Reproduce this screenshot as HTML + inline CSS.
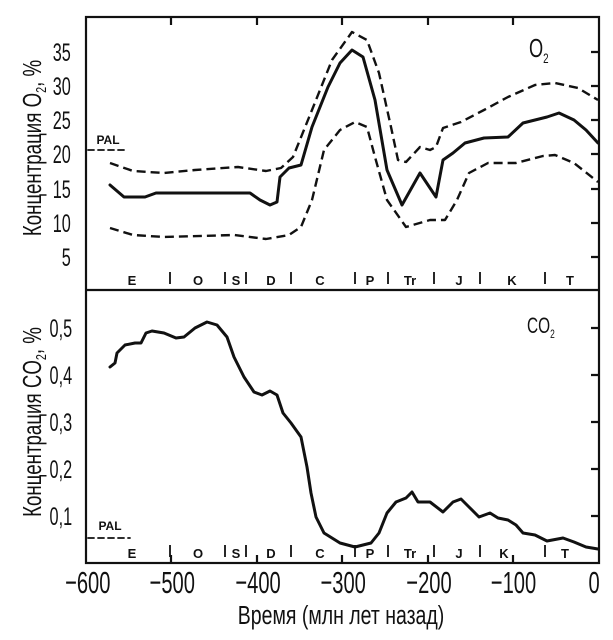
<!DOCTYPE html>
<html><head><meta charset="utf-8"><style>
html,body{margin:0;padding:0;background:#fff;}
svg text{font-family:"Liberation Sans",sans-serif;fill:#111;}
</style></head><body>
<svg width="613" height="635" viewBox="0 0 613 635" xmlns="http://www.w3.org/2000/svg">
<g stroke="#111" fill="none" stroke-width="2.2">
<rect x="86" y="17" width="513" height="546"/>
<line x1="86" y1="290" x2="599" y2="290"/>
<path d="M171 17v8M257 17v8M342 17v8M428 17v8M513 17v8"/>
<path d="M599 52h-8M599 86h-8M599 120h-8M599 154h-8M599 189h-8M599 223h-8M599 257h-8"/>
<path d="M599 328h-8M599 375h-8M599 422h-8M599 469h-8M599 516h-8"/>
<path d="M171 563v-8M257 563v-8M342 563v-8M428 563v-8M513 563v-8"/>
<path d="M170 272v12M225 272v12M246 272v12M291 272v12M355 272v12M388 272v12M434 272v12M480 272v12M545 272v12" stroke-width="1.8"/>
<path d="M170 545v12M225 545v12M246 545v12M291 545v12M355 545v12M388 545v12M434 545v12M480 545v12M545 545v12" stroke-width="1.8"/>
</g>
<g fill="none" stroke="#111" stroke-linejoin="round" stroke-linecap="round">
<polyline stroke-width="3" points="110,185 124,197 145,197 156,193 250,193 260,200 270,205 277,202 280,177 289,168 301,165 312,127 328,87 340,63 352,50 363,57 375,100 387,170 402,205 420,173 436,197 443,160 453,153 465,143 484,138 508,137 523,123 547,117 559,113 574,120 586,130 598,143"/>
<polyline stroke-width="2.4" stroke-dasharray="9,5" stroke-linecap="butt" points="110,163 133,171 164,173 195,170 238,167 266,171 281,168 293,157 312,110 332,60 352,32 367,40 379,73 391,127 398,160 406,162 420,147 430,150 436,147 443,128 461,122 484,110 508,97 535,85 555,83 578,88 598,100"/>
<polyline stroke-width="2.4" stroke-dasharray="9,5" stroke-linecap="butt" points="110,228 133,235 164,237 234,235 266,239 289,235 301,227 312,200 324,150 340,130 355,122 367,127 375,157 387,200 406,227 430,220 445,220 457,200 469,173 488,163 516,163 543,156 555,155 574,163 598,182"/>
<line x1="88" y1="150" x2="127" y2="150" stroke-width="1.8" stroke-dasharray="6,4"/>
<polyline stroke-width="3" points="110,367 115,363 117,353 125,345 135,343 141,343 146,333 152,331 164,333 176,338 184,337 195,328 207,322 217,325 227,337 234,357 244,377 254,392 262,395 270,391 277,395 283,413 291,423 301,437 307,467 311,493 316,517 324,533 340,543 355,547 371,543 379,533 387,513 396,502 406,498 412,492 418,502 430,502 443,512 453,502 461,499 469,507 479,517 490,513 498,518 508,520 516,525 523,533 535,535 547,541 563,538 574,542 586,547 598,549"/>
<line x1="88" y1="538" x2="130" y2="538" stroke-width="1.8" stroke-dasharray="6,4"/>
</g>
<g font-size="25" text-anchor="end" transform="scale(0.65,1)">
<text x="109" y="61">35</text><text x="109" y="95">30</text><text x="109" y="129">25</text><text x="109" y="163">20</text><text x="109" y="198">15</text><text x="109" y="232">10</text><text x="109" y="266">5</text>
<text x="111" y="337">0,5</text><text x="111" y="384">0,4</text><text x="111" y="431">0,3</text><text x="111" y="478">0,2</text><text x="111" y="525">0,1</text>
</g>
<g font-size="31" text-anchor="middle" transform="scale(0.65,1)">
<text x="135" y="593">−600</text><text x="265" y="593">−500</text><text x="397" y="593">−400</text><text x="528" y="593">−300</text><text x="660" y="593">−200</text><text x="790" y="593">−100</text><text x="914" y="593">0</text>
</g>
<text transform="translate(341,624) scale(0.75,1)" font-size="26" text-anchor="middle">Время (млн лет назад)</text>
<g font-size="13" font-weight="bold" text-anchor="middle">
<text x="132" y="285">E</text><text x="198" y="285">O</text><text x="236" y="285">S</text><text x="271" y="285">D</text><text x="320" y="285">C</text><text x="370" y="285">P</text><text x="410" y="285">Tr</text><text x="459" y="285">J</text><text x="512" y="285">K</text><text x="570" y="285">T</text>
<text x="132" y="558">E</text><text x="198" y="558">O</text><text x="236" y="558">S</text><text x="271" y="558">D</text><text x="320" y="558">C</text><text x="370" y="558">P</text><text x="410" y="558">Tr</text><text x="459" y="558">J</text><text x="504" y="558">K</text><text x="565" y="558">T</text>
<text x="108" y="144" font-size="12">PAL</text>
<text x="110" y="530" font-size="12">PAL</text>
</g>
<text transform="translate(529,57) scale(0.7,1)" font-size="26">O<tspan font-size="14" dy="6">2</tspan></text>
<text transform="translate(527,333) scale(0.7,1)" font-size="22">CO<tspan font-size="12" dy="5">2</tspan></text>
<g font-size="26" text-anchor="middle">
<text transform="translate(41,148) rotate(-90) scale(0.72,1)">Концентрация O<tspan font-size="15" dy="5">2</tspan><tspan dy="-5">, %</tspan></text>
<text transform="translate(41,422) rotate(-90) scale(0.72,1)">Концентрация CO<tspan font-size="15" dy="5">2</tspan><tspan dy="-5">, %</tspan></text>
</g>
</svg>
</body></html>
